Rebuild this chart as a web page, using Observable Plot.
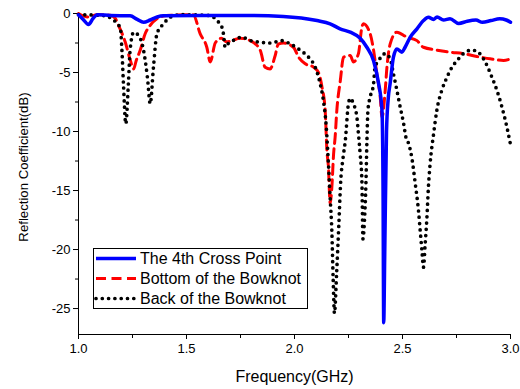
<!DOCTYPE html>
<html><head><meta charset="utf-8">
<script src="https://cdn.jsdelivr.net/npm/d3@7"></script>
<script src="https://cdn.jsdelivr.net/npm/@observablehq/plot@0.6"></script>
<style>
html,body{margin:0;padding:0;background:#fff;}
#wrap{position:relative;width:520px;height:389px;font-family:"Liberation Sans",Arial,sans-serif;}
#legend{position:absolute;left:93px;top:248px;}
</style></head><body><div id="wrap"></div>
<script>
const xTicks = [1.0, 1.5, 2.0, 2.5, 3.0];
const xMinor = [1.25, 1.75, 2.25, 2.75];
const yTicks = [0, -5, -10, -15, -20, -25];
const yMinor = [-2.5, -7.5, -12.5, -17.5, -22.5];
const seriesNames = ["The 4th Cross Point", "Bottom of the Bowknot", "Back of the Bowknot"];

const crossFreq = [1.0, 1.022, 1.046, 1.068, 1.087, 1.147, 1.239, 1.272, 1.301, 1.332, 1.364, 1.392, 1.563, 1.795, 1.948, 2.104, 2.165, 2.211, 2.258, 2.304, 2.335, 2.366, 2.389, 2.405, 2.410, 2.413, 2.418, 2.426, 2.434, 2.443, 2.458, 2.474, 2.497, 2.512, 2.536, 2.567, 2.597, 2.620, 2.643, 2.66, 2.69, 2.72, 2.76, 2.80, 2.84, 2.87, 2.91, 2.95, 2.98, 3.0];
const crossDb = [-0.1, -0.5, -0.93, -0.4, -0.1, -0.17, -0.2, -0.5, -0.74, -0.55, -0.3, -0.2, -0.17, -0.17, -0.25, -0.6, -0.87, -1.3, -1.58, -2.1, -2.86, -4.0, -5.9, -8.2, -15, -26.2, -20, -10, -7.2, -5.9, -3.7, -3.0, -3.28, -2.86, -2.0, -1.3, -0.6, -0.31, -0.5, -0.3, -0.55, -0.45, -0.85, -0.65, -0.55, -0.75, -0.6, -0.45, -0.55, -0.74];

const bottomFreq = [1.0, 1.045, 1.085, 1.147, 1.17, 1.185, 1.216, 1.239, 1.255, 1.267, 1.286, 1.309, 1.332, 1.363, 1.409, 1.531, 1.563, 1.594, 1.61, 1.633, 1.661, 1.687, 1.749, 1.795, 1.841, 1.864, 1.887, 1.91, 1.925, 1.949, 1.995, 2.019, 2.05, 2.088, 2.111, 2.127, 2.142, 2.15, 2.157, 2.165, 2.173, 2.181, 2.188, 2.196, 2.212, 2.227, 2.258, 2.273, 2.296, 2.312, 2.319, 2.35, 2.366, 2.381, 2.397, 2.405, 2.42, 2.428, 2.443, 2.474, 2.52, 2.567, 2.597, 2.659, 2.721, 2.782, 2.844, 2.906, 2.968, 3.0];
const bottomDb = [0, -0.3, -0.1, -0.15, -0.4, -1.0, -2.4, -3.9, -4.7, -4.0, -3.1, -1.7, -1.0, -0.45, -0.17, -0.1, -1.7, -2.86, -4.1, -2.5, -2.1, -2.4, -2.1, -2.3, -3.1, -4.55, -4.7, -3.6, -2.6, -2.5, -2.86, -3.7, -4.26, -4.55, -5.0, -6.2, -8.2, -11.6, -13.0, -16.1, -14.7, -11.9, -10.5, -8.2, -5.7, -3.7, -3.56, -4.1, -3.4, -1.16, -0.87, -1.7, -3.1, -5.1, -7.1, -8.8, -6.5, -4.55, -2.57, -1.58, -2.0, -2.3, -2.86, -3.1, -3.28, -3.4, -3.64, -3.84, -3.98, -3.84];

const backFreq = [1.0, 1.114, 1.193, 1.201, 1.208, 1.219, 1.231, 1.239, 1.255, 1.278, 1.301, 1.319, 1.332, 1.347, 1.363, 1.394, 1.425, 1.471, 1.61, 1.641, 1.664, 1.671, 1.679, 1.693, 1.716, 1.756, 1.795, 1.841, 1.887, 1.942, 1.98, 2.026, 2.065, 2.096, 2.119, 2.134, 2.147, 2.157, 2.165, 2.173, 2.179, 2.185, 2.195, 2.205, 2.214, 2.225, 2.235, 2.25, 2.258, 2.273, 2.289, 2.296, 2.304, 2.312, 2.317, 2.324, 2.331, 2.335, 2.340, 2.35, 2.366, 2.373, 2.389, 2.42, 2.443, 2.458, 2.474, 2.489, 2.505, 2.516, 2.528, 2.543, 2.559, 2.574, 2.582, 2.59, 2.597, 2.605, 2.613, 2.62, 2.628, 2.644, 2.659, 2.682, 2.706, 2.729, 2.752, 2.782, 2.821, 2.852, 2.883, 2.914, 2.937, 2.96, 2.983, 3.0];
const backDb = [-0.1, -0.17, -1.16, -3.1, -5.9, -9.35, -5.9, -3.1, -1.6, -1.86, -3.1, -5.4, -7.65, -4.55, -1.72, -0.87, -0.31, -0.1, -0.17, -0.6, -1.16, -1.72, -2.86, -2.55, -2.29, -2.0, -2.29, -2.43, -2.5, -2.3, -2.57, -3.1, -3.7, -4.55, -5.96, -7.4, -9.6, -12.7, -15.6, -18.5, -22.5, -25.4, -22, -18, -14.2, -12.2, -10.8, -7.6, -7.2, -7.65, -8.8, -10.2, -11.9, -14.2, -19.1, -17.5, -14.2, -11, -8.2, -7.1, -5.96, -4.55, -4.0, -3.4, -3.84, -5.1, -6.5, -7.9, -9.3, -10.5, -11.0, -12.2, -14.4, -16.7, -18.4, -20.1, -21.5, -19.5, -17.3, -14.7, -12.7, -10.2, -8.2, -6.5, -5.4, -4.55, -4.0, -3.4, -3.1, -3.3, -4.1, -5.4, -6.5, -7.9, -9.6, -11.1];

const styles = [
  {stroke: "#0000ff", strokeWidth: 3.5},
  {stroke: "#ff0000", strokeWidth: 3, strokeDasharray: "10,5.5"},
  {stroke: "#000000", strokeWidth: 3.7, strokeDasharray: "0,6.3", strokeLinecap: "round"}
];
const rows = (xs, ys) => xs.map((x, i) => ({x, y: ys[i]}));
const crossRows = rows(crossFreq, crossDb);
const bottomRows = rows(bottomFreq, bottomDb);
const backRows = rows(backFreq, backDb);

const chart = Plot.plot({
  width: 520, height: 389,
  marginLeft: 78, marginRight: 10, marginTop: 13, marginBottom: 55,
  style: {fontFamily: "'Liberation Sans', Arial, sans-serif", fontSize: "13px", background: "white", color: "black"},
  x: {domain: [1, 3]},
  y: {domain: [-27.2, 0]},
  marks: [
    Plot.axisX(xTicks, {tickSize: 5, tickPadding: 4, tickFormat: d3.format(".1f"), label: null, fontSize: 13}),
    Plot.axisX(xMinor, {tickSize: 4, tickFormat: () => "", label: null}),
    Plot.axisY(yTicks, {tickSize: 5, tickPadding: 3, tickFormat: d => String(d), label: null, fontSize: 13}),
    Plot.axisY(yMinor, {tickSize: 3, tickFormat: () => "", label: null}),
    Plot.ruleX([1], {stroke: "black"}),
    Plot.ruleY([-27.2], {stroke: "black"}),
    Plot.line(bottomRows, {x: "x", y: "y", curve: "monotone-x", ...styles[1]}),
    Plot.line(backRows, {x: "x", y: "y", curve: "monotone-x", ...styles[2]}),
    Plot.line(crossRows, {x: "x", y: "y", curve: "monotone-x", ...styles[0]}),
    Plot.text(["Frequency(GHz)"], {text: d => d, frameAnchor: "bottom", dy: 47, fontSize: 16}),
    Plot.text(["Reflection Coefficient(dB)"], {text: d => d, frameAnchor: "left", textAnchor: "middle", rotate: -90, dx: -55, dy: -7, fontSize: 13.2})
  ]
});
const wrap = document.getElementById("wrap");
wrap.appendChild(chart);

// legend overlay
const ns = "http://www.w3.org/2000/svg";
const leg = document.createElementNS(ns, "svg");
leg.setAttribute("id", "legend");
leg.setAttribute("width", 216);
leg.setAttribute("height", 62);
const box = document.createElementNS(ns, "rect");
box.setAttribute("x", 0.5); box.setAttribute("y", 0.5);
box.setAttribute("width", 214); box.setAttribute("height", 60);
box.setAttribute("fill", "white"); box.setAttribute("stroke", "black");
leg.appendChild(box);
seriesNames.forEach((name, i) => {
  const cy = 10.5 + i * 20;
  const ln = document.createElementNS(ns, "line");
  ln.setAttribute("x1", 3); ln.setAttribute("x2", 43);
  ln.setAttribute("y1", cy); ln.setAttribute("y2", cy);
  const s = styles[i];
  ln.setAttribute("stroke", s.stroke);
  ln.setAttribute("stroke-width", s.strokeWidth);
  if (s.strokeDasharray) ln.setAttribute("stroke-dasharray", s.strokeDasharray);
  if (s.strokeLinecap) ln.setAttribute("stroke-linecap", s.strokeLinecap);
  leg.appendChild(ln);
  const tx = document.createElementNS(ns, "text");
  tx.setAttribute("x", 47); tx.setAttribute("y", cy + 5.6);
  tx.setAttribute("font-size", 16);
  tx.setAttribute("font-family", "'Liberation Sans', Arial, sans-serif");
  tx.textContent = name;
  leg.appendChild(tx);
});
wrap.appendChild(leg);
</script>
</body></html>
